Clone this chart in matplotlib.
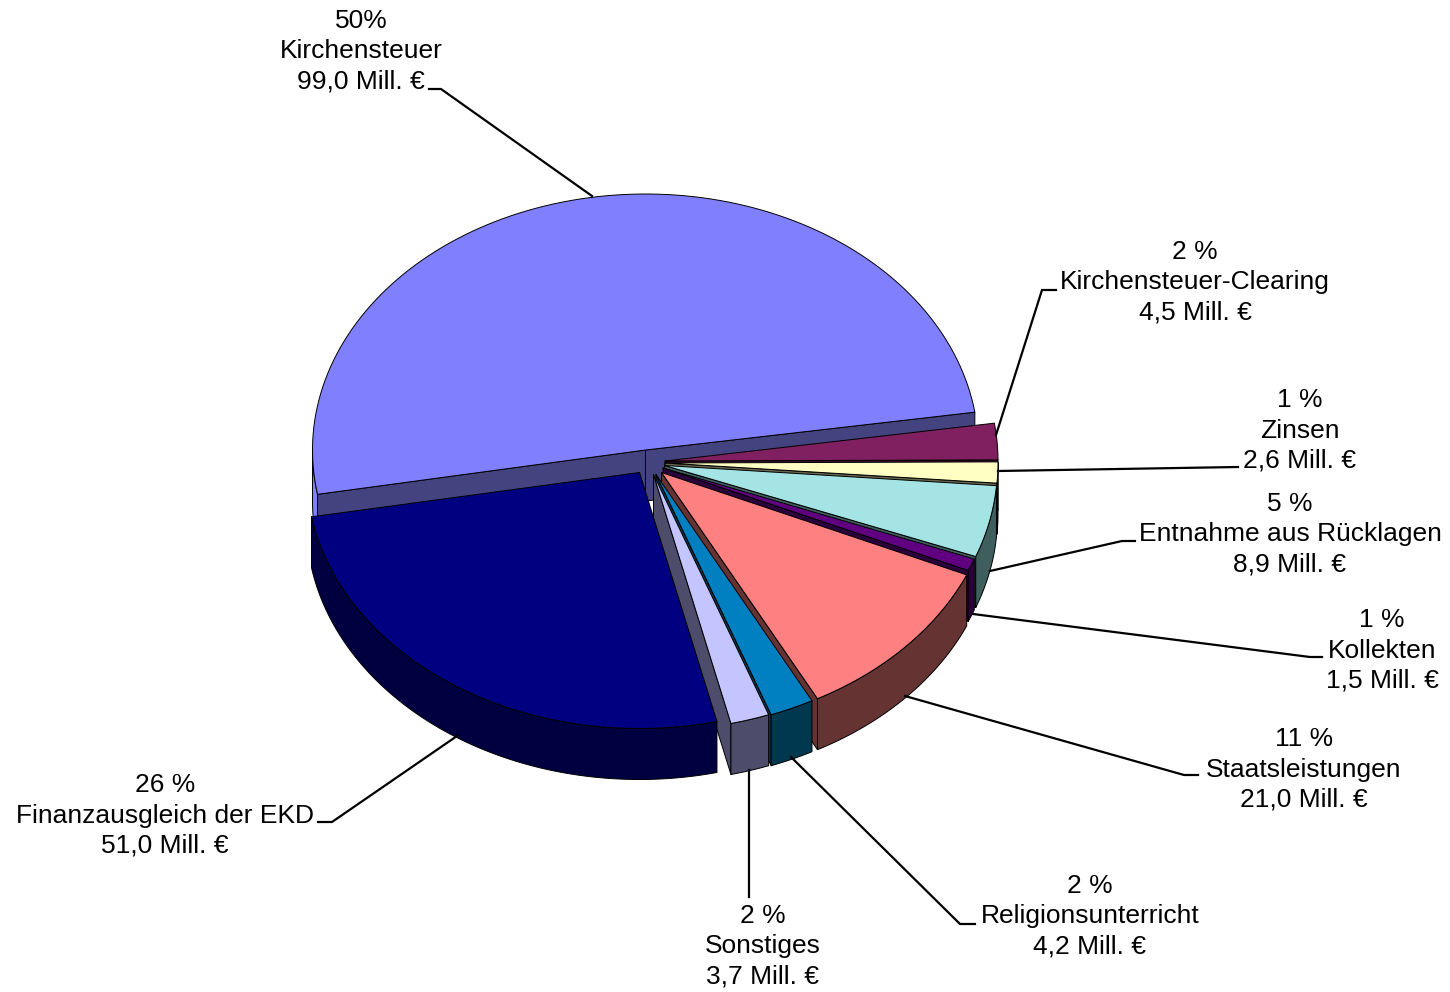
import numpy as np
import matplotlib
matplotlib.use("Agg")
import matplotlib.pyplot as plt

plt.rcParams["font.family"] = ["Liberation Sans", "DejaVu Sans"]

# Werte in Mill. Euro, gegen den Uhrzeigersinn
names = ["Kirchensteuer", "Finanzausgleich der EKD", "Sonstiges", "Religionsunterricht",
         "Staatsleistungen", "Kollekten", "Entnahme aus Rücklagen", "Zinsen",
         "Kirchensteuer-Clearing"]
values = [99.0, 51.0, 3.7, 4.2, 21.0, 1.5, 8.9, 2.6, 4.5]
amounts = ["99,0 Mill. €", "51,0 Mill. €", "3,7 Mill. €", "4,2 Mill. €", "21,0 Mill. €",
           "1,5 Mill. €", "8,9 Mill. €", "2,6 Mill. €", "4,5 Mill. €"]
percents = ["50%", "26 %", "2 %", "2 %", "11 %", "1 %", "5 %", "1 %", "2 %"]

top_colors = ["#8080FF", "#000080", "#C4C4FF", "#0080C0", "#FF8080", "#600080", "#A4E4E4",
              "#FFFFC4", "#802060"]
wall_colors = ["#434380", "#000040", "#4D4D6B", "#003850", "#663333", "#2C003C", "#3F5F5F",
               "#666650", "#401030"]
rim_colors = ["#8080FF", "#000040", "#4D4D6B", "#003850", "#663333", "#2C003C", "#3F5F5F",
              "#666650", "#401030"]

# Geometrie der 3D-Torte (Pixel)
rx, ry = 333, 256
depth = 51
start_angle = 8.5
apex_x = [645.5, 639.5, 653.5, 656, 661.5, 663, 664.5, 665, 665]
apex_y = [450, 472.5, 474.5, 474.5, 472.5, 468, 465.5, 463, 461]
draw_order = [0, 8, 7, 6, 5, 4, 3, 2, 1]

# Beschriftung: Mitte des Textblocks
label_x = [361, 165, 763, 1090, 1304, 1382, 1290, 1300, 1195]
label_y = [51.5, 815.5, 946.5, 916.5, 769.5, 650.5, 534.5, 430.5, 282.5]
leaders = [
    ([429, 441, 592], [89, 89, 196]),
    ([318, 332, 457], [822, 822, 736]),
    ([749, 749], [897, 770]),
    ([975, 960, 791], [924, 924, 757]),
    ([1198, 1184, 905], [775, 775, 696]),
    ([1322, 1310, 973], [657, 657, 614]),
    ([1135, 1122, 990], [541, 541, 571]),
    ([1238, 998], [467, 471]),
    ([1056, 1042, 996], [290, 290, 435]),
]

EDGE = dict(edgecolor="black", linewidth=0.7, joinstyle="round")


def rim(cx, cy, a1, a2, n=120):
    t = np.radians(np.linspace(a1, a2, n))
    return cx + rx * np.cos(t), cy - ry * np.sin(t)


def draw_slice(ax, i, a1, a2):
    cx, cy = apex_x[i], apex_y[i]

    # Schnittflaechen, nur wenn sie zum Betrachter zeigen
    for a, visible in ((a1, np.cos(np.radians(a1)) > 0), (a2, np.cos(np.radians(a2)) < 0)):
        if visible:
            ex, ey = rim(cx, cy, a, a, 1)
            ax.fill([cx, ex[0], ex[0], cx], [cy, ey[0], ey[0] + depth, cy + depth],
                    facecolor=wall_colors[i], **EDGE)

    # Mantel (unterer Teil der Ellipse)
    lo, hi = max(a1, 180), min(a2, 360)
    if lo < hi:
        x, y = rim(cx, cy, lo, hi)
        ax.fill(np.r_[x, x[::-1]], np.r_[y, y[::-1] + depth],
                facecolor=rim_colors[i], **EDGE)

    # Deckflaeche
    x, y = rim(cx, cy, a1, a2)
    ax.fill(np.r_[cx, x], np.r_[cy, y], facecolor=top_colors[i], **EDGE)


fig = plt.figure(figsize=(14.5, 9.92), dpi=100)
ax = fig.add_axes([0, 0, 1, 1])
ax.set_xlim(0, 1450)
ax.set_ylim(992, 0)
ax.axis("off")

sweep = np.array(values) / sum(values) * 360
edges = start_angle + np.r_[0, np.cumsum(sweep)]

for i in draw_order:
    draw_slice(ax, i, edges[i], edges[i + 1])

for lx, ly in leaders:
    ax.plot(lx, ly, color="black", linewidth=1.6, solid_joinstyle="miter")

for i in range(len(values)):
    ax.text(label_x[i], label_y[i], f"{percents[i]}\n{names[i]}\n{amounts[i]}",
            ha="center", va="center", fontsize=19, linespacing=1.33, color="black")

fig.savefig("out.png", dpi=100)
